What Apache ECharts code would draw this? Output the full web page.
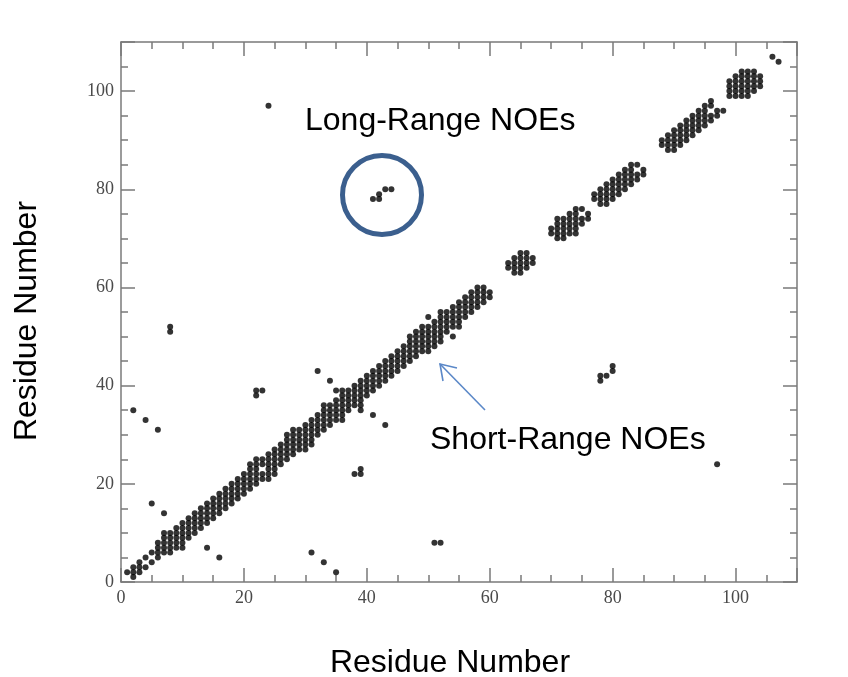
<!DOCTYPE html>
<html>
<head>
<meta charset="utf-8">
<script src="https://cdn.jsdelivr.net/npm/echarts@6/dist/echarts.min.js"></script>
<style>
    html, body { margin: 0; padding: 0; background: #fff; }
    #chart { width: 848px; height: 677px; }
</style>
</head>
<body>
<div id="chart"></div>
<script>
// short-range NOEs: residue -> partners (same residue or further along the chain)
const shortRange = [
    [1, [2]], [2, [2, 3]], [3, [3, 4]], [4, [5]], [5, [6]],
    [6, [6, 7, 8]], [7, [7, 8, 9, 10]], [8, [8, 9, 10]], [9, [9, 10, 11]], [10, [10, 11, 12]],
    [11, [11, 12, 13]], [12, [12, 13, 14]], [13, [13, 14, 15]], [14, [14, 15, 16]], [15, [15, 16, 17]],
    [16, [16, 17, 18]], [17, [17, 18, 19]], [18, [18, 19, 20]], [19, [19, 20, 21]], [20, [20, 21, 22]],
    [21, [21, 22, 23, 24]], [22, [22, 23, 24, 25]], [23, [24, 25]], [24, [24, 25, 26]], [25, [25, 26, 27]],
    [26, [26, 27, 28]], [27, [27, 28, 29, 30]], [28, [28, 29, 30, 31]], [29, [29, 30, 31]], [30, [30, 31, 32]],
    [31, [31, 32, 33]], [32, [32, 33, 34]], [33, [33, 34, 35, 36]], [34, [34, 35, 36]], [35, [35, 36, 37, 39]],
    [36, [36, 37, 38, 39]], [37, [37, 38, 39]], [38, [38, 39, 40]], [39, [39, 40, 41]], [40, [40, 41, 42]],
    [41, [41, 42, 43]], [42, [42, 43, 44]], [43, [43, 44, 45]], [44, [44, 45, 46]], [45, [45, 46, 47]],
    [46, [46, 47, 48]], [47, [47, 48, 49, 50]], [48, [48, 49, 50, 51]], [49, [49, 50, 51, 52]], [50, [50, 51, 52, 54]],
    [51, [51, 52, 53]], [52, [52, 53, 54, 55]], [53, [53, 54, 55]], [54, [54, 55, 56]], [55, [55, 56, 57]],
    [56, [56, 57, 58]], [57, [57, 58, 59]], [58, [58, 59, 60]], [59, [59, 60]],
    [63, [64, 65]], [64, [64, 65, 66]], [65, [65, 66, 67]], [66, [66, 67]],
    [70, [71, 72]], [71, [71, 72, 73, 74]], [72, [72, 73, 74]], [73, [73, 74, 75]], [74, [74, 75, 76]], [75, [76]],
    [77, [78, 79]], [78, [78, 79, 80]], [79, [79, 80, 81]], [80, [80, 81, 82]], [81, [81, 82, 83]],
    [82, [82, 83, 84]], [83, [83, 84, 85]], [84, [85]],
    [88, [89, 90]], [89, [89, 90, 91]], [90, [90, 91, 92]], [91, [91, 92, 93]], [92, [92, 93, 94]],
    [93, [93, 94, 95]], [94, [94, 95, 96]], [95, [95, 96, 97]], [96, [97, 98]],
    [99, [99, 100, 101, 102]], [100, [100, 101, 102, 103]], [101, [101, 102, 103, 104]], [102, [102, 103, 104]], [103, [103, 104]],
    [106, [107]]
];
// long-range NOEs (i < j)
const longRange = [
    [2, 35], [4, 33], [6, 31], [5, 16], [7, 14], [8, 51], [8, 52],
    [22, 38], [22, 39], [23, 39], [24, 97], [32, 43], [34, 41],
    [41, 78], [42, 78], [42, 79], [43, 80], [44, 80]
];
const tickStep = 20;
const axisMax = 110;

// the map is symmetric, every contact is drawn on both sides of the diagonal
let points = [];
shortRange.forEach(item => {
    item[1].forEach(j => {
        points.push([item[0], j]);
        if (j !== item[0]) points.push([j, item[0]]);
    });
});
longRange.forEach(p => {
    points.push([p[0], p[1]]);
    points.push([p[1], p[0]]);
});

const lineCol = '#7a7a7a';
const labelStyle = { fontFamily: 'Liberation Serif', fontSize: 18, color: '#4a4a4a', margin: 7 };

function makeAxis(pos, show) {
    return {
        type: 'value',
        position: pos,
        min: 0,
        max: axisMax,
        interval: tickStep,
        axisLine: { show: true, onZero: false, lineStyle: { color: lineCol, width: 1.5 } },
        axisTick: { show: true, inside: true, length: 14, lineStyle: { color: lineCol, width: 1.5 } },
        minorTick: { show: true, splitNumber: 4, length: 7, lineStyle: { color: lineCol, width: 1.5 } },
        axisLabel: Object.assign({ show: show, showMaxLabel: false }, labelStyle),
        splitLine: { show: false }
    };
}

const myChart = echarts.init(document.getElementById('chart'));
const option = {
    backgroundColor: '#fff',
    animation: false,
    grid: { left: 121, right: 51, top: 42, bottom: 95 },
    xAxis: [makeAxis('bottom', true), makeAxis('top', false)],
    yAxis: [makeAxis('left', true), makeAxis('right', false)],
    series: [{
        type: 'scatter',
        data: points,
        symbol: 'circle',
        symbolSize: 6,
        itemStyle: { color: '#000' },
        silent: true
    }],
    graphic: [
        {
            type: 'text', x: 450, y: 663,
            style: { text: 'Residue Number', font: '32px "Liberation Sans"', fill: '#000', align: 'center', verticalAlign: 'middle' }
        },
        {
            type: 'text', x: 27, y: 321, rotation: Math.PI / 2,
            style: { text: 'Residue Number', font: '32px "Liberation Sans"', fill: '#000', align: 'center', verticalAlign: 'middle' }
        },
        {
            type: 'text', left: 305, top: 105,
            style: { text: 'Long-Range NOEs', font: '32px "Liberation Sans"', fill: '#000' }
        },
        {
            type: 'circle', shape: { cx: 382, cy: 195, r: 39.5 },
            style: { fill: 'none', stroke: '#3b5f8e', lineWidth: 5 }
        },
        {
            type: 'text', left: 430, top: 424,
            style: { text: 'Short-Range NOEs', font: '32px "Liberation Sans"', fill: '#000' }
        },
        {
            type: 'polyline', shape: { points: [[485, 410], [440, 364]] },
            style: { stroke: '#5b88c8', lineWidth: 1.6, fill: 'none' }
        },
        {
            type: 'polyline', shape: { points: [[457, 368], [440, 364], [443, 381]] },
            style: { stroke: '#5b88c8', lineWidth: 1.6, fill: 'none' }
        }
    ]
};
myChart.setOption(option);
</script>
</body>
</html>
